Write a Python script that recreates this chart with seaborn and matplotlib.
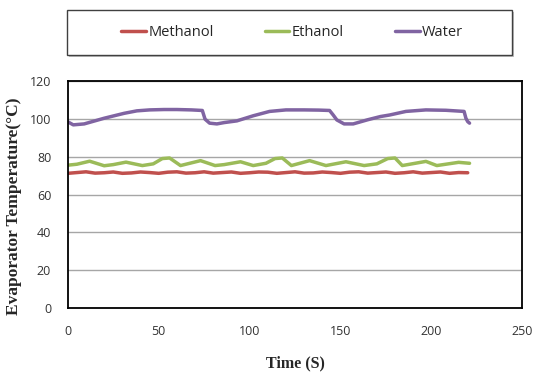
import pandas as pd
import numpy as np
import matplotlib
matplotlib.use("Agg")
import matplotlib.pyplot as plt
from matplotlib.patches import Rectangle
import seaborn as sns

# readings taken off the chart
methanol_t = [0, 5, 10, 15, 20, 25, 30, 35, 40, 45, 50, 55, 60, 65, 70, 75, 80, 85, 90, 95,
              100, 105, 110, 115, 120, 125, 130, 135, 140, 145, 150, 155, 160, 165, 170, 175,
              180, 185, 190, 195, 200, 205, 210, 215, 220]
methanol_v = [71.2, 71.6, 72.0, 71.3, 71.5, 71.9, 71.2, 71.4, 71.9, 71.6, 71.2, 71.8, 72.0, 71.3,
              71.5, 72.0, 71.3, 71.6, 71.9, 71.2, 71.5, 71.9, 71.8, 71.2, 71.6, 72.0, 71.3, 71.4,
              71.9, 71.6, 71.2, 71.8, 72.0, 71.3, 71.6, 71.9, 71.2, 71.5, 72.0, 71.3, 71.6, 71.9,
              71.2, 71.6, 71.5]

ethanol_t = [0, 5, 12, 20, 25, 32, 41, 47, 52, 56, 62, 73, 81, 86, 95, 102, 109, 114, 118, 123,
             133, 142, 153, 163, 170, 176, 180, 184, 197, 203, 215, 221]
ethanol_v = [75.5, 76.0, 77.6, 75.2, 75.8, 77.1, 75.3, 76.2, 79.0, 79.3, 75.3, 77.9, 75.3, 75.8,
             77.3, 75.3, 76.5, 79.0, 79.3, 75.3, 77.9, 75.3, 77.3, 75.3, 76.2, 79.0, 79.3, 75.3,
             77.5, 75.3, 77.0, 76.5]

water_t = [0, 3, 9, 20, 31, 38, 45, 53, 60, 68, 74, 75.5, 78, 82, 86, 93, 102, 111, 120, 130,
           138, 144, 146, 148, 152, 157, 165, 172, 177, 186, 197, 208, 218, 219, 220, 221]
water_v = [98.4, 96.8, 97.3, 100.3, 102.9, 104.2, 104.7, 104.9, 104.9, 104.7, 104.4, 99.8, 97.7,
           97.3, 98.0, 98.9, 101.6, 103.9, 104.7, 104.7, 104.6, 104.4, 102.0, 99.4, 97.3, 97.3,
           99.5, 101.2, 102.0, 103.9, 104.7, 104.5, 103.9, 100.3, 98.5, 97.7]

x_ticks = [0, 50, 100, 150, 200, 250]
y_ticks = [0, 20, 40, 60, 80, 100, 120]

df = pd.concat([
    pd.DataFrame({"Time": methanol_t, "Temp": methanol_v, "Fluid": "Methanol"}),
    pd.DataFrame({"Time": ethanol_t, "Temp": ethanol_v, "Fluid": "Ethanol"}),
    pd.DataFrame({"Time": water_t, "Temp": water_v, "Fluid": "Water"}),
])

sns.set_style("white")
colors = {"Methanol": "#c0504d", "Ethanol": "#9bbb59", "Water": "#8064a2"}

fig = plt.figure(figsize=(5.34, 3.73), dpi=100)
ax = fig.add_axes([0.127, 0.174, 0.851, 0.609])

sns.lineplot(data=df, x="Time", y="Temp", hue="Fluid", palette=colors,
             linewidth=2.5, ax=ax, legend=False, sort=False, estimator=None)

ax.set_xlim(0, 250)
ax.set_ylim(0, 120)
ax.set_xticks(x_ticks)
ax.set_yticks(y_ticks)
ax.yaxis.grid(True, color="#a6a6a6", linewidth=1)
ax.set_axisbelow(True)
for s in ax.spines.values():
    s.set_color("black")
    s.set_linewidth(1.3)
ax.tick_params(axis="both", which="both", direction="out", length=4, width=0.8,
               color="#808080", labelsize=9, labelcolor="#333333", pad=8)
for lab in ax.get_xticklabels() + ax.get_yticklabels():
    lab.set_family("Open Sans")

ax.set_xlabel("Time (S)", family="Liberation Serif", fontweight="bold", fontsize=11.5)
ax.set_ylabel("Evaporator Temperature(°C)", family="Liberation Serif", fontweight="bold",
              fontsize=12.5)
ax.xaxis.set_label_coords(0.5, -0.21)
ax.yaxis.set_label_coords(-0.1, 0.45)

# legend box drawn separately, entries centred inside it
fig.patches.append(Rectangle((69 / 534, 1 - 57 / 373), 445 / 534, 45 / 373,
                             transform=fig.transFigure, facecolor="#bfbfbf",
                             edgecolor="none", zorder=0))
fig.patches.append(Rectangle((67 / 534, 1 - 55 / 373), 445 / 534, 45 / 373,
                             transform=fig.transFigure, facecolor="white",
                             edgecolor="#404040", linewidth=1.0, zorder=1))
handles = [plt.Line2D([], [], color=colors[k], linewidth=2.5) for k in colors]
leg = fig.legend(handles, list(colors.keys()), ncol=3, loc="center",
                 bbox_to_anchor=(292 / 534, 1 - 33 / 373), frameon=False,
                 handlelength=1.7, handletextpad=0.15, columnspacing=3.5,
                 prop={"family": "Open Sans", "size": 10.5})

fig.savefig("out.png", dpi=100)
